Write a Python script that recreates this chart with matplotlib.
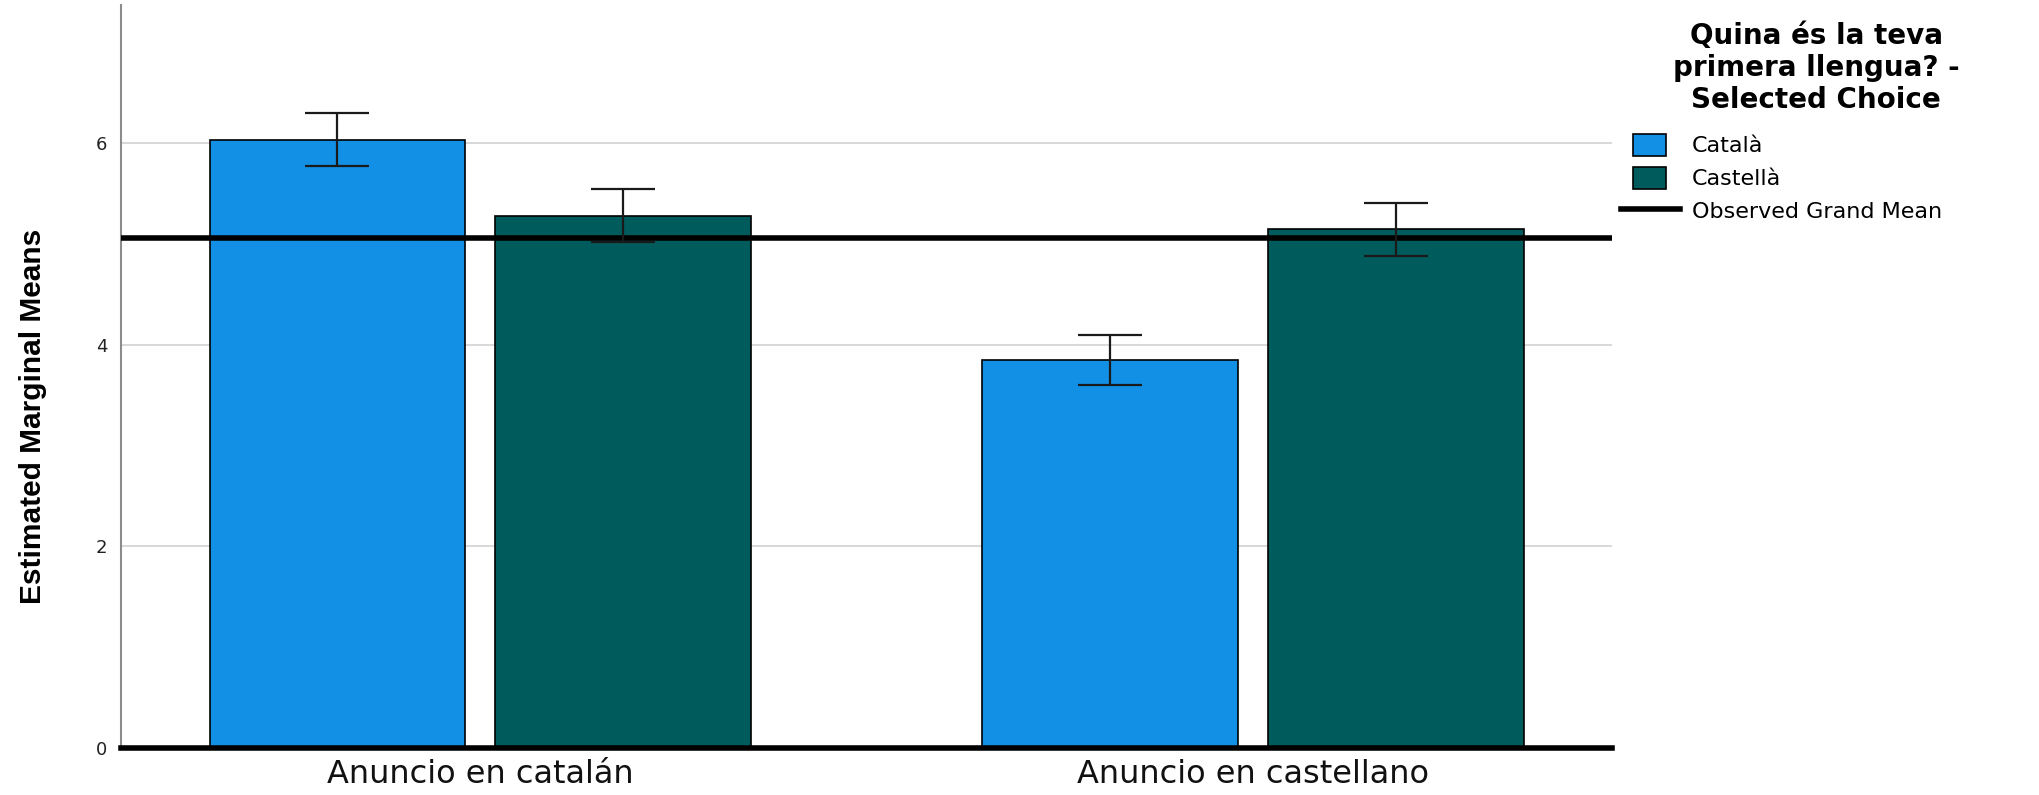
import numpy as np
import matplotlib as mpl
mpl.use('Agg')
import matplotlib.pyplot as plt
from matplotlib.patches import Patch
from matplotlib.lines import Line2D
from matplotlib.legend_handler import HandlerLine2D

# Estimated marginal means per ad language and first language, with 95% CI
groups = ['Anuncio en catalán', 'Anuncio en castellano']
series = ['Català', 'Castellà']
means_catala = [6.03, 3.85]
lower_catala = [5.77, 3.60]
upper_catala = [6.30, 4.10]
means_castella = [5.28, 5.15]
lower_castella = [5.02, 4.88]
upper_castella = [5.54, 5.41]
grand_mean = 5.06

col_catala = '#1290e6'
col_castella = '#005c5c'


class WideLine(HandlerLine2D):
    # legend line a bit longer than the colour boxes
    def create_artists(self, legend, orig_handle, xdescent, ydescent,
                       width, height, fontsize, trans):
        return super().create_artists(legend, orig_handle, xdescent + 9,
                                      ydescent, width + 19, height,
                                      fontsize, trans)


W, H = 2039, 795
fig = plt.figure(figsize=(W / 100, H / 100), dpi=100)
ax = fig.add_axes([121 / W, 47 / H, (1612 - 121) / W, 743 / H])

x = np.arange(len(groups))
off = 0.185
bw = 0.331

for xs, m, lo, hi, col in [(x - off, means_catala, lower_catala, upper_catala, col_catala),
                           (x + off, means_castella, lower_castella, upper_castella, col_castella)]:
    m = np.array(m)
    ax.bar(xs, m, bw, color=col, edgecolor='black', linewidth=1.2, zorder=2)
    yerr = [m - np.array(lo), np.array(hi) - m]
    ax.errorbar(xs, m, yerr=yerr, fmt='none', ecolor='#1a1a1a', elinewidth=1.6,
                capsize=22.7, capthick=1.6, zorder=4)

ax.axhline(grand_mean, color='black', lw=4, zorder=3)

ax.set_xlim(-0.465, 1.464)
ax.set_ylim(0, 7.37)
ax.set_yticks([0, 2, 4, 6])
ax.set_xticks(x, groups)
ax.yaxis.grid(True, color='#d2d2d2', lw=1.2)
ax.set_axisbelow(True)

for s in ['top', 'right']:
    ax.spines[s].set_visible(False)
ax.spines['left'].set_color('#8c8c8c')
ax.spines['left'].set_linewidth(1.5)
ax.spines['bottom'].set_color('black')
ax.spines['bottom'].set_linewidth(4)
ax.spines['bottom'].set_zorder(5)

ax.tick_params(axis='y', length=0, pad=10, labelsize=13, labelcolor='#222222')
ax.tick_params(axis='x', length=0, pad=8, labelsize=23, labelcolor='#111111')

fig.text(33 / W, 1 - 416 / H, 'Estimated Marginal Means', rotation=90,
         ha='center', va='center', fontsize=21.5, fontweight='bold',
         family='Liberation Sans')

# legend heading and entries
fig.text(1816 / W, 1 - 68 / H, 'Quina és la teva\nprimera llengua? -\nSelected Choice',
         ha='center', va='center', multialignment='center',
         fontsize=20, fontweight='bold', linespacing=1.2)

handles = [Patch(facecolor=col_catala, edgecolor='black', lw=1.2, label=series[0]),
           Patch(facecolor=col_castella, edgecolor='black', lw=1.2, label=series[1]),
           Line2D([], [], color='black', lw=4, label='Observed Grand Mean')]
fig.legend(handles=handles, loc='upper left', bbox_to_anchor=(1633 / W, 1 - 134 / H),
           frameon=False, fontsize=16, handlelength=1.49, handleheight=1.13,
           handletextpad=1.17, labelspacing=0.47, borderpad=0, borderaxespad=0,
           handler_map={Line2D: WideLine()})

plt.savefig('out.png', dpi=100)
